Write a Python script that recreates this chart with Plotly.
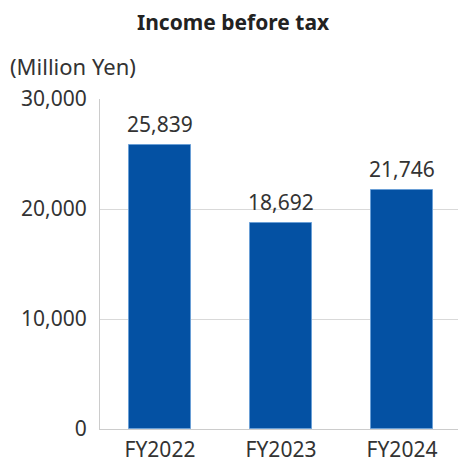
import plotly.graph_objects as go

categories = ["FY2022", "FY2023", "FY2024"]
values = [25839, 18692, 21746]
value_labels = ["25,839", "18,692", "21,746"]
y_ticks = [0, 10000, 20000, 30000]
y_tick_labels = ["0", "10,000", "20,000", "30,000"]

FONT = "Noto Sans"
L, R, T, B = 100, 3, 99, 32
W = H = 461
pw = W - L - R
ph = H - T - B


def px_to_paper(xp, yp):
    return (xp - L) / pw, (H - yp - B) / ph


fig = go.Figure(go.Bar(
    x=[0, 1, 2], y=values, width=0.51,
    marker=dict(color="#0451A3", line=dict(color="#6a9fd6", width=1)),
))

value_anns = [
    dict(x=i, y=v, text=t, xref="x", yref="y", showarrow=False,
         yanchor="bottom", xanchor="center", yshift=5,
         font=dict(family=FONT, size=21, color="#333333"))
    for i, (v, t) in enumerate(zip(values, value_labels))
]

tx, ty = px_to_paper(233, 22)
ux, uy = px_to_paper(8, 66)
fig.update_layout(
    width=W, height=H,
    margin=dict(l=L, r=R, t=T, b=B, autoexpand=False),
    paper_bgcolor="white", plot_bgcolor="white",
    showlegend=False,
    font=dict(family=FONT, size=21, color="#333333"),
    bargap=0,
    annotations=[
        dict(text="<b>Income before tax</b>", x=tx, y=ty, xref="paper", yref="paper",
             xanchor="center", yanchor="middle",
             showarrow=False, font=dict(family=FONT, size=21, color="#222222")),
        dict(text="(Million Yen)", x=ux, y=uy, xref="paper", yref="paper",
             xanchor="left", yanchor="middle", showarrow=False,
             font=dict(family=FONT, size=22, color="#333333")),
    ] + value_anns,
)

fig.update_xaxes(
    range=[(100 - 160) / 121, (458 - 160) / 121],
    tickvals=[0, 1, 2], ticktext=categories,
    showline=True, linecolor="#cccccc", linewidth=1,
    showgrid=False, ticks="", ticklabelstandoff=2, automargin=False,
    tickfont=dict(family=FONT, size=21, color="#333333"),
)
fig.update_yaxes(
    range=[0, 30000], tickvals=y_ticks, ticktext=y_tick_labels,
    showline=True, linecolor="#cccccc", linewidth=1,
    showgrid=True, gridcolor="#d9d9d9", gridwidth=1,
    zeroline=False, ticks="", ticklabelstandoff=8, automargin=False,
    tickfont=dict(family=FONT, size=21, color="#333333"),
)

fig.write_html("out.html")
